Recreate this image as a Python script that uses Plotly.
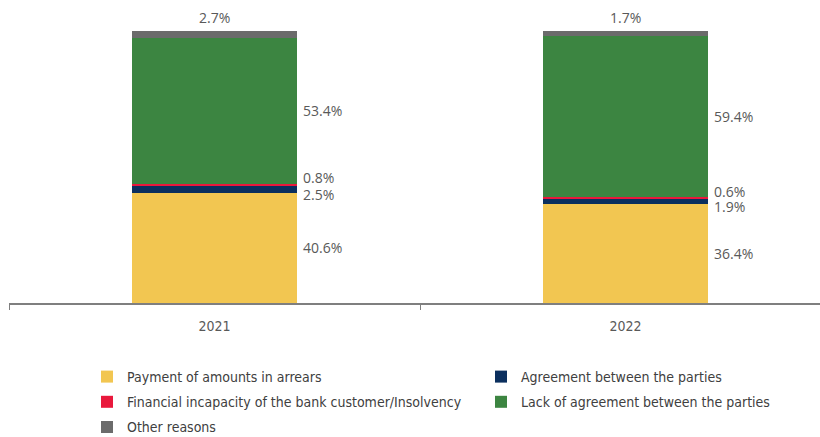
import plotly.graph_objects as go

# Reasons for closing cases, share of total (%)
years = ["2021", "2022"]
series_names = [
    "Payment of amounts in arrears",
    "Agreement between the parties",
    "Financial incapacity of the bank customer/Insolvency",
    "Lack of agreement between the parties",
    "Other reasons",
]
payment = [40.6, 36.4]
agreement = [2.5, 1.9]
incapacity = [0.8, 0.6]
no_agreement = [53.4, 59.4]
other = [2.7, 1.7]

colors = ["#F2C651", "#0B2F5E", "#E9183C", "#3C8541", "#6B6B6B"]
values = [payment, agreement, incapacity, no_agreement, other]
# legend column for each series (two-column legend)
legend_ids = ["legend", "legend2", "legend", "legend2", "legend"]

BAR_W = 0.4
LABEL_FONT = dict(family="Open Sans, sans-serif", size=14, color="#595959")
NARROW = "Liberation Sans Narrow, DejaVu Sans Condensed, Roboto, sans-serif"

fig = go.Figure()
for idx, (name, vals, col, lg) in enumerate(zip(series_names, values, colors, legend_ids)):
    fig.add_trace(go.Bar(
        x=years, y=vals, name=name, width=BAR_W, legend=lg,
        legendgroup=f"g{idx}",
        marker=dict(color=col, line=dict(width=0)),
        hoverinfo="skip",
    ))

# value labels beside each segment; small slices nudged apart
shifts = [0, -5, 7, 0]
for i in range(len(years)):
    base = 0.0
    for k, vals in enumerate(values):
        v = vals[i]
        if k < len(values) - 1:
            fig.add_annotation(
                x=i + BAR_W / 2, y=base + v / 2, text=f"{v:.1f}%",
                xanchor="left", yanchor="middle", xshift=4, yshift=shifts[k],
                showarrow=False, font=LABEL_FONT,
            )
        else:
            fig.add_annotation(
                x=i, y=base + v, text=f"{v:.1f}%",
                xanchor="center", yanchor="bottom", yshift=2,
                showarrow=False, font=LABEL_FONT,
            )
        base += v

plot_w = 811
plot_h = 272
cat_px = 411
span = plot_w / cat_px
leg_left = 87

legend_style = dict(
    orientation="v",
    yanchor="top", y=(303 - 361) / plot_h,
    xanchor="left",
    traceorder="grouped",
    tracegroupgap=4,
    font=dict(family=NARROW, size=14, color="#404040"),
    itemwidth=30, bgcolor="rgba(0,0,0,0)",
)

fig.update_layout(
    barmode="stack",
    width=820, height=437,
    margin=dict(l=9, r=0, t=31, b=134, autoexpand=False),
    paper_bgcolor="white", plot_bgcolor="white",
    showlegend=True,
    legend=dict(legend_style, x=(leg_left - 9) / plot_w),
    legend2=dict(legend_style, x=(leg_left + 394 - 9) / plot_w),
    xaxis=dict(
        type="category",
        range=[-0.5, -0.5 + span],
        showline=True, linecolor="#7F7F7F", linewidth=1.5,
        ticks="outside", tickson="boundaries", ticklen=5,
        tickcolor="#7F7F7F", tickwidth=1,
        ticklabelstandoff=9,
        tickfont=dict(family=NARROW, size=14, color="#595959"),
        showgrid=False, zeroline=False,
    ),
    yaxis=dict(
        range=[0, 100], visible=False, showgrid=False, zeroline=False,
    ),
)

fig.write_html("out.html")
